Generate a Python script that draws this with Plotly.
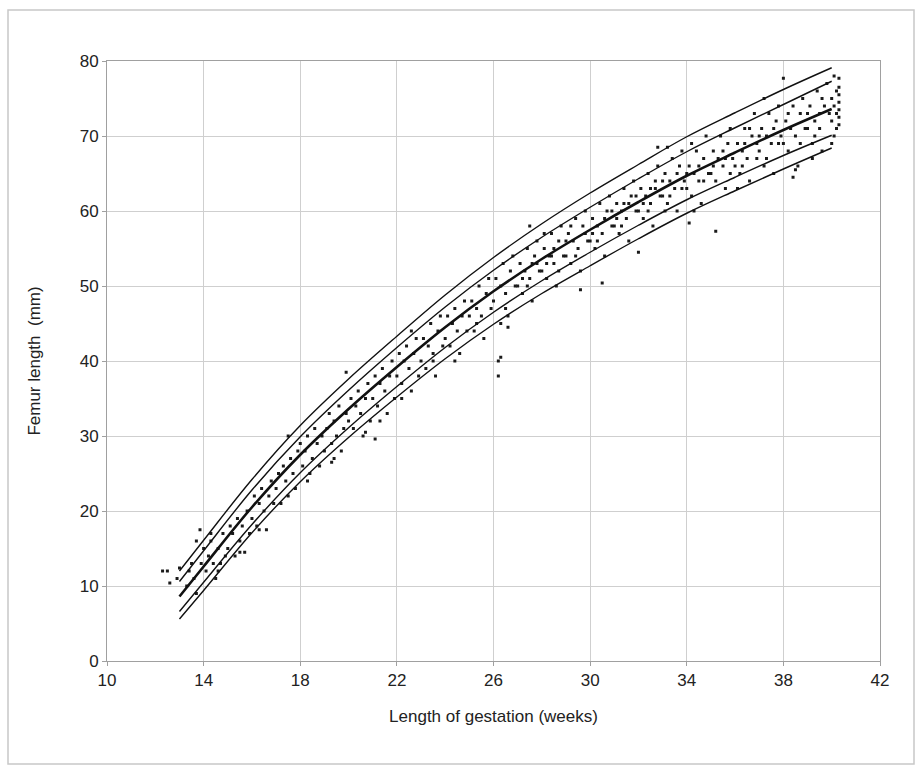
import plotly.graph_objects as go

# ---- Reference curves (femur length, mm) by gestational week ----
curve_weeks = [13, 14, 16, 18, 20, 22, 24, 26, 28, 30, 32, 34, 36, 38, 40]
upper_outer = [12.0, 16.1, 24.2, 31.4, 37.6, 43.3, 48.8, 53.8, 58.3, 62.4, 66.2, 69.9, 73.1, 76.2, 79.1]
upper_inner = [10.6, 14.7, 22.8, 29.9, 36.1, 41.8, 47.2, 52.1, 56.5, 60.5, 64.3, 67.9, 71.1, 74.2, 77.3]
median = [8.6, 12.6, 20.5, 27.5, 33.6, 39.2, 44.5, 49.3, 53.6, 57.5, 61.2, 64.7, 67.8, 70.8, 73.6]
lower_inner = [6.6, 10.5, 18.2, 25.1, 31.1, 36.6, 41.8, 46.5, 50.7, 54.5, 58.1, 61.5, 64.5, 67.4, 70.1]
lower_outer = [5.6, 9.4, 17.1, 23.9, 29.8, 35.2, 40.3, 44.9, 49.0, 52.7, 56.3, 59.7, 62.7, 65.6, 68.4]

# ---- Individual measurements (week, mm) ----
observations = [
    (12.3, 12), (12.5, 12), (12.6, 10.4), (12.9, 11), (13.0, 12.4), (13.3, 10), (13.4, 12), (13.6, 11),
    (13.7, 9), (13.9, 13), (13.5, 13), (13.85, 17.5), (13.7, 16),
    (14.0, 15), (14.1, 12), (14.2, 14), (14.3, 16), (14.4, 13), (14.5, 11), (14.6, 15), (14.7, 13),
    (14.8, 17), (14.9, 14), (14.3, 17), (14.6, 12),
    (15.0, 15), (15.1, 18), (15.2, 17), (15.3, 14), (15.4, 19), (15.5, 16), (15.6, 18), (15.7, 14.5),
    (15.8, 20), (15.9, 17), (15.5, 14.5),
    (16.0, 19), (16.1, 22), (16.2, 18), (16.3, 21), (16.4, 23), (16.5, 20), (16.6, 17.5), (16.7, 22),
    (16.8, 24), (16.9, 21), (16.3, 17.5),
    (17.0, 23), (17.1, 25), (17.2, 21), (17.3, 26), (17.4, 24), (17.5, 22), (17.6, 27), (17.7, 25),
    (17.8, 23), (17.9, 28), (17.5, 30),
    (18.0, 29), (18.1, 26), (18.2, 28), (18.3, 30), (18.4, 25), (18.5, 27), (18.6, 31), (18.7, 29),
    (18.8, 26), (18.9, 30), (18.3, 24),
    (19.0, 28), (19.1, 31), (19.2, 33), (19.3, 29), (19.4, 32), (19.5, 30), (19.6, 34), (19.7, 28),
    (19.8, 31), (19.9, 33), (19.4, 27), (19.3, 26.5), (19.9, 38.5),
    (20.0, 32), (20.1, 35), (20.2, 31), (20.3, 34), (20.4, 36), (20.5, 33), (20.6, 30), (20.7, 35),
    (20.8, 37), (20.9, 32), (20.7, 30.5),
    (21.0, 35), (21.1, 38), (21.2, 34), (21.3, 37), (21.4, 39), (21.5, 36), (21.6, 33), (21.7, 38),
    (21.8, 40), (21.9, 35), (21.3, 32), (21.1, 29.6),
    (22.0, 38), (22.1, 41), (22.2, 37), (22.3, 40), (22.4, 42), (22.5, 39), (22.6, 36), (22.7, 41),
    (22.8, 43), (22.9, 38), (22.2, 35), (22.6, 44),
    (23.0, 40), (23.1, 43), (23.2, 39), (23.3, 42), (23.4, 45), (23.5, 41), (23.6, 38), (23.7, 44),
    (23.8, 46), (23.9, 42), (23.5, 40),
    (24.0, 43), (24.1, 46), (24.2, 42), (24.3, 45), (24.4, 47), (24.5, 44), (24.6, 41), (24.7, 46),
    (24.8, 48), (24.9, 44), (24.4, 40),
    (25.0, 46), (25.1, 48), (25.2, 44), (25.3, 47), (25.4, 50), (25.5, 46), (25.6, 43), (25.7, 49),
    (25.8, 51), (25.9, 47), (25.3, 45),
    (26.0, 48), (26.1, 51), (26.2, 40), (26.2, 38), (26.3, 50), (26.4, 53), (26.5, 49), (26.6, 46),
    (26.7, 52), (26.8, 54), (26.9, 50), (26.5, 47), (26.3, 45), (26.6, 44.5), (26.3, 40.5),
    (27.0, 50), (27.1, 53), (27.2, 49), (27.3, 52), (27.4, 55), (27.5, 51), (27.6, 48), (27.7, 54),
    (27.8, 56), (27.9, 52), (27.4, 50), (27.6, 53), (27.5, 58), (27.2, 51), (27.8, 53),
    (28.0, 52), (28.1, 55), (28.2, 51), (28.3, 54), (28.4, 57), (28.5, 53), (28.6, 50), (28.7, 56),
    (28.8, 58), (28.9, 54), (28.2, 53), (28.5, 55), (28.1, 57), (28.7, 52), (28.4, 54),
    (29.0, 54), (29.1, 57), (29.2, 53), (29.3, 56), (29.4, 59), (29.5, 55), (29.6, 52), (29.7, 58),
    (29.8, 60), (29.9, 56), (29.4, 54), (29.6, 49.5), (29.2, 58), (29.0, 56), (29.8, 57),
    (30.0, 56), (30.1, 59), (30.2, 55), (30.3, 58), (30.4, 61), (30.5, 57), (30.6, 54), (30.7, 60),
    (30.8, 62), (30.9, 58), (30.5, 50.4), (30.3, 56), (30.6, 59), (30.1, 57), (30.9, 60),
    (31.0, 58), (31.1, 61), (31.2, 57), (31.3, 60), (31.4, 63), (31.5, 59), (31.6, 56), (31.7, 62),
    (31.8, 64), (31.9, 60), (31.3, 58), (31.6, 61), (31.1, 59), (31.9, 62), (31.4, 61),
    (32.0, 60), (32.1, 63), (32.2, 59), (32.3, 62), (32.4, 65), (32.5, 61), (32.6, 58), (32.7, 64),
    (32.8, 66), (32.9, 62), (32.0, 54.5), (32.4, 60), (32.7, 63), (32.8, 68.5), (32.2, 61), (32.5, 63),
    (33.0, 62), (33.1, 65), (33.2, 61), (33.3, 64), (33.4, 67), (33.5, 63), (33.6, 60), (33.7, 66),
    (33.8, 68), (33.9, 64), (33.3, 62), (33.6, 65), (33.1, 60), (33.2, 68.5), (33.0, 64), (33.8, 63),
    (34.0, 63), (34.1, 66), (34.2, 62), (34.3, 65), (34.4, 68), (34.5, 64), (34.6, 61), (34.7, 67),
    (34.8, 70), (34.9, 65), (34.1, 58.4), (34.3, 60), (34.5, 66), (34.2, 69), (34.0, 65), (34.7, 64),
    (35.0, 65), (35.1, 68), (35.2, 64), (35.3, 67), (35.4, 70), (35.5, 66), (35.6, 63), (35.7, 69),
    (35.8, 71), (35.9, 67), (35.2, 57.3), (35.5, 68), (35.8, 65), (35.1, 66), (35.6, 67),
    (36.0, 66), (36.1, 69), (36.2, 65), (36.3, 68), (36.4, 71), (36.5, 67), (36.6, 64), (36.7, 70),
    (36.8, 73), (36.9, 69), (36.3, 66), (36.6, 71), (36.1, 63), (36.4, 69), (36.9, 67),
    (37.0, 68), (37.1, 71), (37.2, 66), (37.3, 70), (37.4, 73), (37.5, 69), (37.6, 65), (37.7, 72),
    (37.8, 74), (37.9, 70), (37.3, 67), (37.6, 71), (37.2, 75), (37.0, 70), (37.8, 69),
    (38.0, 69), (38.1, 72), (38.2, 68), (38.3, 71), (38.4, 74), (38.5, 70), (38.6, 66), (38.7, 73),
    (38.8, 75), (38.9, 71), (38.0, 77.7), (38.4, 64.5), (38.5, 65.5), (38.2, 73), (38.7, 69),
    (39.0, 71), (39.1, 74), (39.2, 69), (39.3, 72), (39.4, 76), (39.5, 71), (39.6, 68), (39.7, 74),
    (39.8, 77), (39.9, 73), (39.3, 70), (39.6, 75), (39.2, 67), (39.0, 73), (39.5, 73),
    (40.0, 72), (40.0, 75), (40.1, 70), (40.1, 74), (40.2, 73), (40.2, 76), (40.2, 71), (40.3, 77.7),
    (40.3, 76.5), (40.3, 75.5), (40.3, 74.5), (40.3, 73.5), (40.3, 72.5), (40.3, 71.5), (40.0, 69), (40.1, 78),
]
obs_week = [w for w, _ in observations]
obs_mm = [m for _, m in observations]

x_ticks = [10, 14, 18, 22, 26, 30, 34, 38, 42]
y_ticks = [0, 10, 20, 30, 40, 50, 60, 70, 80]

fig = go.Figure()

fig.add_trace(go.Scatter(
    x=obs_week, y=obs_mm, mode="markers",
    marker=dict(symbol="square", size=3, color="#1a1a1a", line=dict(width=0)),
    hoverinfo="x+y", showlegend=False,
))

for series, width in [(upper_outer, 1.4), (upper_inner, 1.4), (lower_inner, 1.4),
                      (lower_outer, 1.4), (median, 2.6)]:
    fig.add_trace(go.Scatter(
        x=curve_weeks, y=series, mode="lines",
        line=dict(color="#111111", width=width, shape="spline", smoothing=1.0),
        showlegend=False, hoverinfo="skip",
    ))

W, H = 918, 768
ml, mr, mt, mb = 107, 38, 61, 107
pw, ph = W - ml - mr, H - mt - mb

# outer frame around the whole chart
fig.add_shape(type="rect", xref="paper", yref="paper",
              x0=(8 - ml) / pw, x1=(914 - ml) / pw,
              y0=(H - mb - 764) / ph, y1=(H - mb - 10) / ph,
              line=dict(color="#c8c8c8", width=1.5), fillcolor="rgba(0,0,0,0)", layer="below")

font_family = "Liberation Sans, Arial, sans-serif"
fig.update_layout(
    width=W, height=H,
    margin=dict(l=ml, r=mr, t=mt, b=mb),
    paper_bgcolor="white", plot_bgcolor="white",
    font=dict(family=font_family, size=16, color="#222222"),
    xaxis=dict(
        range=[10, 42], tickvals=x_ticks, ticktext=[str(v) for v in x_ticks],
        showgrid=True, gridcolor="#cfcfcf", gridwidth=1,
        showline=True, linecolor="#a0a0a0", linewidth=1, mirror=True,
        ticks="outside", ticklen=4, tickcolor="#a0a0a0",
        zeroline=False,
        title=dict(text="Length of gestation (weeks)", standoff=20,
                   font=dict(family=font_family, size=17, color="#222222")),
        tickfont=dict(family=font_family, size=17, color="#222222"),
    ),
    yaxis=dict(
        range=[0, 80], tickvals=y_ticks, ticktext=[str(v) for v in y_ticks],
        showgrid=True, gridcolor="#cfcfcf", gridwidth=1,
        showline=True, linecolor="#a0a0a0", linewidth=1, mirror=True,
        ticks="outside", ticklen=4, tickcolor="#a0a0a0",
        zeroline=False,
        title=dict(text="Femur length  (mm)", standoff=34,
                   font=dict(family=font_family, size=17, color="#222222")),
        tickfont=dict(family=font_family, size=17, color="#222222"),
    ),
)

fig.write_html("out.html")
